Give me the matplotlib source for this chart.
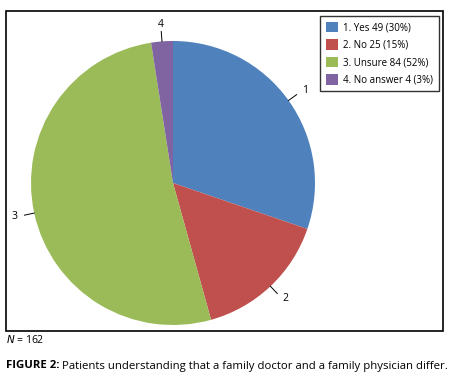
import numpy as np
import matplotlib.pyplot as plt
from matplotlib.patches import Rectangle

labels = ["1", "2", "3", "4"]
legend_labels = ["1. Yes 49 (30%)", "2. No 25 (15%)", "3. Unsure 84 (52%)", "4. No answer 4 (3%)"]
counts = [49, 25, 84, 4]
colors = ["#4F81BD", "#C0504D", "#9BBB59", "#8064A2"]
n_total = 162
caption_bold = "FIGURE 2:"
caption_text = " Patients understanding that a family doctor and a family physician differ."

W, H = 456, 383
fig = plt.figure(figsize=(W / 100, H / 100), dpi=100)
plt.rcParams['font.family'] = ['Open Sans', 'DejaVu Sans']

# outer chart frame
fig.patches.append(Rectangle((6 / W, 1 - 331 / H), 437 / W, 320 / H,
                             transform=fig.transFigure, fill=False,
                             edgecolor="black", linewidth=1.2))

# pie: center (173, 183) px, radius 142 px
cx, cy, r = 173, 183, 142
ax = fig.add_axes([(cx - r) / W, 1 - (cy + r) / H, 2 * r / W, 2 * r / H])
wedges, _ = ax.pie(counts, colors=colors, startangle=90, counterclock=False,
                   radius=1.0)
ax.set_xlim(-1, 1)
ax.set_ylim(-1, 1)
ax.set_aspect("equal")
ax.axis("off")

# slice labels with short leader lines
cum = np.cumsum([0] + counts)
for i, lab in enumerate(labels):
    mid = (cum[i] + cum[i + 1]) / 2 / sum(counts)
    ang = np.deg2rad(90 - mid * 360)
    x0, y0 = np.cos(ang), np.sin(ang)
    x1, y1 = 1.07 * x0, 1.07 * y0
    ax.plot([x0, x1], [y0, y1], color="black", linewidth=0.7, clip_on=False)
    tx, ty = 1.12 * x0, 1.12 * y0
    ha = "left" if x0 > 0.1 else ("right" if x0 < -0.1 else "center")
    ax.text(tx, ty, lab, fontsize=7.5, ha=ha, va="center", clip_on=False)

# legend
leg = fig.legend(wedges, legend_labels, loc="upper right",
                 bbox_to_anchor=(439 / W, 1 - 16 / H), fontsize=7,
                 frameon=True, fancybox=False, edgecolor="black",
                 handlelength=1.3, handleheight=1.3, handletextpad=0.5,
                 labelspacing=0.6, borderpad=0.6, borderaxespad=0)
leg.get_frame().set_linewidth(1.0)

# footnote and caption
fig.text(6 / W, 1 - 340 / H, "$N$ = 162", fontsize=7.5, va="center", ha="left")
t = fig.text(6 / W, 1 - 366 / H, caption_bold, fontsize=8.2, fontweight="bold",
             va="center", ha="left")
fig.canvas.draw()
bb = t.get_window_extent()
fig.text(bb.x1 / W, 1 - 366 / H, caption_text, fontsize=8.2, va="center", ha="left")

fig.savefig("out.png", dpi=100)
